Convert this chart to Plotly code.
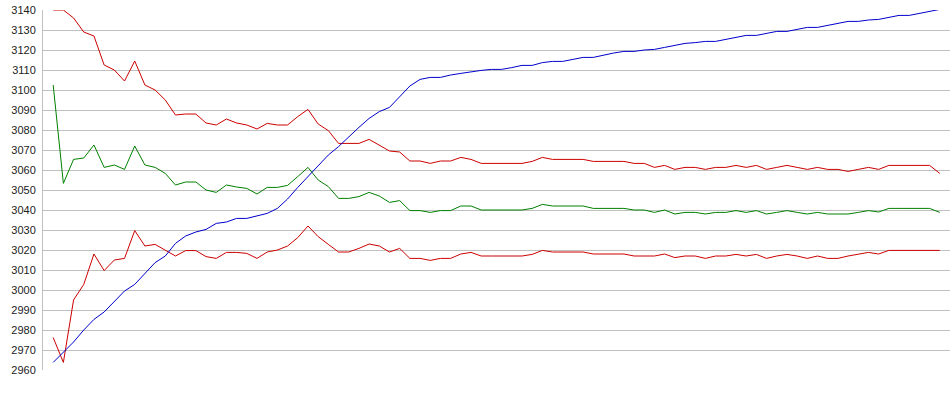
import plotly.graph_objects as go

idx = list(range(88))

red_upper = [3140, 3140, 3136, 3129, 3127, 3112.5, 3110, 3104.5, 3114.5, 3102.5,
             3100, 3095, 3087.5, 3088, 3088, 3083.5, 3082.5, 3085.5, 3083.5, 3082.5,
             3080.5, 3083.3, 3082.5, 3082.5, 3086.7, 3090.3, 3083, 3079.7, 3073.3, 3073.3,
             3073.3, 3075.3, 3072.5, 3069.5, 3069, 3064.5, 3064.5, 3063.3, 3064.5, 3064.5,
             3066.3, 3065.3, 3063.3, 3063.3, 3063.3, 3063.3, 3063.3, 3064.3, 3066.3, 3065.3,
             3065.3, 3065.3, 3065.3, 3064.3, 3064.3, 3064.3, 3064.3, 3063.3, 3063.3, 3061.3,
             3062.3, 3060.3, 3061.3, 3061.3, 3060.3, 3061.3, 3061.3, 3062.3, 3061.3, 3062.3,
             3060.3, 3061.3, 3062.3, 3061.3, 3060.3, 3061.3, 3060.3, 3060.3, 3059.3, 3060.3,
             3061.3, 3060.3, 3062.3, 3062.3, 3062.3, 3062.3, 3062.3, 3058.3]

green = [3102.5, 3053.3, 3065.3, 3066, 3072.5, 3061.3, 3062.5, 3060.3, 3072, 3062.5,
         3061.3, 3058.3, 3052.5, 3054, 3054, 3050, 3048.8, 3052.5, 3051.5, 3050.8,
         3048, 3051.3, 3051.3, 3052.3, 3056.7, 3061.3, 3055, 3051.7, 3045.8, 3045.8,
         3046.7, 3048.8, 3047, 3043.8, 3044.7, 3039.7, 3039.7, 3038.8, 3039.7, 3039.7,
         3042, 3042, 3040, 3040, 3040, 3040, 3040, 3040.8, 3042.8, 3042,
         3042, 3042, 3042, 3040.8, 3040.8, 3040.8, 3040.8, 3040, 3040, 3038.8,
         3040, 3038, 3038.8, 3038.8, 3038, 3038.8, 3038.8, 3039.7, 3038.8, 3039.7,
         3038, 3038.8, 3039.7, 3038.8, 3038, 3038.8, 3038, 3038, 3038, 3038.8,
         3039.7, 3039, 3040.8, 3040.8, 3040.8, 3040.8, 3040.8, 3038.8]

red_lower = [2976.2, 2963.8, 2995, 3002.8, 3018, 3009.7, 3015, 3015.8, 3029.7, 3022,
             3022.8, 3020, 3017, 3019.7, 3019.7, 3016.7, 3015.8, 3018.8, 3018.8, 3018.3,
             3015.8, 3019, 3020, 3022, 3026.2, 3032, 3026.7, 3022.8, 3019, 3019,
             3020.8, 3023, 3022, 3019, 3020.8, 3015.8, 3015.8, 3014.8, 3015.8, 3015.8,
             3018, 3018.8, 3017, 3017, 3017, 3017, 3017, 3017.8, 3019.8, 3019,
             3019, 3019, 3019, 3018, 3018, 3018, 3018, 3017, 3017, 3017,
             3018, 3016.2, 3017, 3017, 3015.8, 3017, 3017, 3017.8, 3017, 3017.8,
             3015.8, 3017, 3017.8, 3017, 3015.8, 3017, 3015.8, 3015.8, 3017, 3017.8,
             3018.8, 3018, 3019.8, 3019.8, 3019.8, 3019.8, 3019.8, 3019.8]

blue = [2963.8, 2968.7, 2974, 2980, 2985.3, 2989, 2994, 2999.5, 3002.8, 3008.3,
        3013.7, 3017, 3023.3, 3027, 3029, 3030.3, 3033.3, 3034, 3035.8, 3035.8,
        3037, 3038.3, 3040.8, 3045.5, 3051.3, 3056.7, 3061.7, 3067.5, 3071.7, 3076.7,
        3081.3, 3085.8, 3089.2, 3091.3, 3096.7, 3102, 3105.3, 3106.3, 3106.3, 3107.5,
        3108.3, 3109.2, 3109.8, 3110.3, 3110.3, 3111.2, 3112.3, 3112.3, 3113.7, 3114.3,
        3114.3, 3115.3, 3116.3, 3116.3, 3117.5, 3118.5, 3119.3, 3119.3, 3120, 3120.3,
        3121.3, 3122.3, 3123.3, 3123.7, 3124.3, 3124.3, 3125.3, 3126.3, 3127.3, 3127.3,
        3128.3, 3129.3, 3129.3, 3130.3, 3131.3, 3131.3, 3132.3, 3133.3, 3134.3, 3134.3,
        3135, 3135.3, 3136.3, 3137.3, 3137.3, 3138.3, 3139.3, 3140.3]

y_ticks = list(range(2960, 3141, 10))

fig = go.Figure()
for vals, col in [(red_upper, "#CC0000"), (green, "#008000"),
                  (red_lower, "#CC0000"), (blue, "#0000CC")]:
    fig.add_trace(go.Scatter(x=idx, y=vals, mode="lines",
                             line=dict(color=col, width=1),
                             cliponaxis=False, showlegend=False,
                             hoverinfo="skip"))

fig.update_layout(
    width=950, height=395,
    margin=dict(l=43, r=0, t=10, b=25, autoexpand=False),
    paper_bgcolor="white", plot_bgcolor="white",
    font=dict(family="Liberation Sans, Arial, sans-serif", size=11, color="#222222"),
    xaxis=dict(range=[-1, 88], showgrid=False, showticklabels=False,
               zeroline=False, showline=False, ticks="", automargin=False),
    yaxis=dict(range=[2960, 3140], tickvals=y_ticks,
               ticktext=[str(v) for v in y_ticks], automargin=False,
               showgrid=True, gridcolor="#C0C0C0", gridwidth=1,
               zeroline=False, showline=True, linecolor="#C0C0C0", linewidth=1,
               ticks="outside", ticklen=4, tickcolor="rgba(0,0,0,0)"),
)

fig.write_html("out.html", config={"displayModeBar": False, "staticPlot": True},
               post_script="document.body.style.margin='0';document.body.style.padding='0';")
